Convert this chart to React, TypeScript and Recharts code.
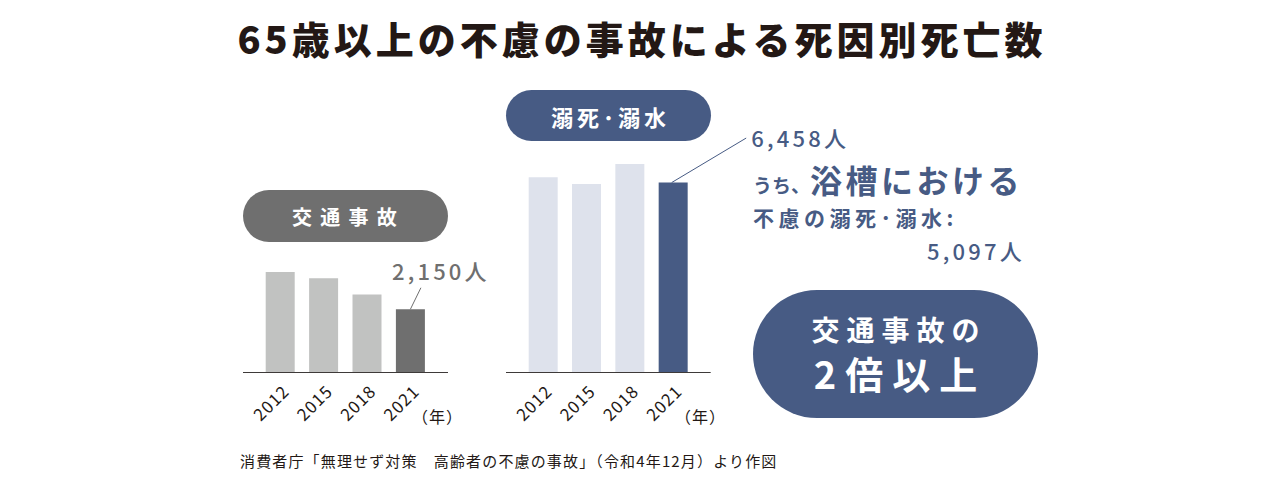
import React from 'react';
import { BarChart, Bar, XAxis, YAxis, Cell, LabelList } from 'recharts';

const years = ['2012', '2015', '2018', '2021'];
const trafficDeaths = [3418, 3204, 2650, 2150];
const drowningDeaths = [6640, 6410, 7093, 6458];
const valueDomain = [0, 8000];

const trafficData = years.map((year, i) => ({ year, value: trafficDeaths[i] }));
const drowningData = years.map((year, i) => ({ year, value: drowningDeaths[i] }));

const FONT = '"Noto Sans CJK JP", "Noto Sans", sans-serif';
const DARK = '#231815';
const NAVY = '#475b84';
const NAVY_LIGHT = '#dee2ec';
const GRAY = '#6f6f6f';
const GRAY_LIGHT = '#c1c2c1';
const AXIS = '#3e3a39';

const RotTick = (props: any) => {
  const { x, y, payload } = props;
  const tx = x + 10;
  const ty = y + 20;
  return (
    <text
      x={tx}
      y={ty}
      transform={`rotate(-45 ${tx} ${ty})`}
      textAnchor="end"
      fontFamily={FONT}
      fontSize={17}
      fill={DARK}
      style={{ letterSpacing: 1 }}
    >
      {payload.value}
    </text>
  );
};

const makeLeader = (
  color: string,
  text: string,
  lineDx0: number,
  lineDx: number,
  lineDy: number,
  textDx: number,
  textDy: number
) => (props: any) => {
  const { x, y, width, index } = props;
  if (index !== years.length - 1) return null;
  const cx = Number(x) + Number(width) / 2;
  const top = Number(y);
  return (
    <g>
      <line x1={cx + lineDx0} y1={top} x2={cx + lineDx} y2={top - lineDy} stroke={color} strokeWidth={1} />
      <text
        x={cx + textDx}
        y={top - textDy}
        fontFamily={FONT}
        fontSize={22}
        fontWeight={500}
        fill={color}
        style={{ letterSpacing: 3.2 }}
      >
        {text}
      </text>
    </g>
  );
};

const trafficLabel = makeLeader(GRAY, '2,150人', 0, 10.5, 21.5, -18.5, 29.5);
const drowningLabel = makeLeader(NAVY, '6,458人', -1.5, 73, 44.5, 78, 36);

const CHART_W = 1280;
const CHART_H = 486;
const MARGIN_TOP = 137.2;
const XAXIS_H = 40;
const MARGIN_BOTTOM = 73.5;

export default function App() {
  return (
    <div
      style={{
        position: 'absolute',
        left: 0,
        top: 0,
        width: 1280,
        height: 486,
        background: '#ffffff',
        fontFamily: FONT,
        overflow: 'hidden',
      }}
    >
      {/* Title */}
      <div
        style={{
          position: 'absolute',
          left: 0,
          top: 16,
          width: 1280,
          textAlign: 'center',
          fontSize: 38,
          fontWeight: 900,
          lineHeight: '44px',
          color: DARK,
          letterSpacing: 4,
          paddingLeft: 4,
          boxSizing: 'border-box',
        }}
      >
        65歳以上の不慮の事故による死因別死亡数
      </div>

      {/* Left chart: traffic accidents */}
      <div style={{ position: 'absolute', left: 0, top: 0 }}>
        <BarChart
          width={CHART_W}
          height={CHART_H}
          data={trafficData}
          margin={{ top: MARGIN_TOP, right: 1280 - 448, left: 243, bottom: MARGIN_BOTTOM }}
        >
          <YAxis hide domain={valueDomain} />
          <XAxis
            dataKey="year"
            height={XAXIS_H}
            interval={0}
            tickLine={false}
            tickSize={0}
            tickMargin={0}
            axisLine={{ stroke: AXIS, strokeWidth: 1 }}
            padding={{ left: 15.7, right: 15.7 }}
            tick={<RotTick />}
          />
          <Bar dataKey="value" barSize={29} isAnimationActive={false}>
            {trafficData.map((d, i) => (
              <Cell key={d.year} fill={i === trafficData.length - 1 ? GRAY : GRAY_LIGHT} />
            ))}
            <LabelList dataKey="value" content={trafficLabel} />
          </Bar>
        </BarChart>
      </div>

      {/* Right chart: drowning */}
      <div style={{ position: 'absolute', left: 0, top: 0 }}>
        <BarChart
          width={CHART_W}
          height={CHART_H}
          data={drowningData}
          margin={{ top: MARGIN_TOP, right: 1280 - 710.7, left: 506, bottom: MARGIN_BOTTOM }}
        >
          <YAxis hide domain={valueDomain} />
          <XAxis
            dataKey="year"
            height={XAXIS_H}
            interval={0}
            tickLine={false}
            tickSize={0}
            tickMargin={0}
            axisLine={{ stroke: AXIS, strokeWidth: 1 }}
            padding={{ left: 15.7, right: 15.7 }}
            tick={<RotTick />}
          />
          <Bar dataKey="value" barSize={29} isAnimationActive={false}>
            {drowningData.map((d, i) => (
              <Cell key={d.year} fill={i === drowningData.length - 1 ? NAVY : NAVY_LIGHT} />
            ))}
            <LabelList dataKey="value" content={drowningLabel} />
          </Bar>
        </BarChart>
      </div>

      {/* Year unit labels */}
      <div style={{ position: 'absolute', left: 412, top: 406, fontSize: 16, color: DARK, letterSpacing: 1, lineHeight: '20px' }}>
        （年）
      </div>
      <div style={{ position: 'absolute', left: 675, top: 406, fontSize: 16, color: DARK, letterSpacing: 1, lineHeight: '20px' }}>
        （年）
      </div>

      {/* Left pill */}
      <div
        style={{
          position: 'absolute',
          left: 243,
          top: 190,
          width: 205,
          height: 52,
          borderRadius: 26,
          background: GRAY,
          color: '#fff',
          display: 'flex',
          alignItems: 'center',
          justifyContent: 'center',
          fontSize: 20,
          fontWeight: 700,
          letterSpacing: 8.3,
          paddingLeft: 6,
          boxSizing: 'border-box',
        }}
      >
        交通事故
      </div>

      {/* Right pill */}
      <div
        style={{
          position: 'absolute',
          left: 506,
          top: 90,
          width: 205,
          height: 51,
          borderRadius: 25.5,
          background: NAVY,
          color: '#fff',
          display: 'flex',
          alignItems: 'center',
          justifyContent: 'center',
          fontSize: 22,
          fontWeight: 700,
          letterSpacing: 4,
          paddingLeft: 4,
          boxSizing: 'border-box',
          whiteSpace: 'nowrap',
        }}
      >
        溺死･溺水
      </div>

      {/* Right annotation */}
      <div style={{ position: 'absolute', left: 753, top: 158, color: NAVY, fontWeight: 700, whiteSpace: 'nowrap', lineHeight: '42px' }}>
        <span style={{ fontSize: 19, letterSpacing: 0 }}>うち、</span>
        <span style={{ fontSize: 32, letterSpacing: 3.5 }}>浴槽における</span>
      </div>
      <div
        style={{
          position: 'absolute',
          left: 753,
          top: 203,
          color: NAVY,
          fontWeight: 700,
          fontSize: 21,
          letterSpacing: 4.5,
          whiteSpace: 'nowrap',
          lineHeight: '28px',
        }}
      >
        不慮の溺死･溺水:
      </div>
      <div
        style={{
          position: 'absolute',
          right: 1280 - 1025,
          top: 236,
          color: NAVY,
          fontWeight: 500,
          fontSize: 22,
          letterSpacing: 3.2,
          whiteSpace: 'nowrap',
          lineHeight: '28px',
        }}
      >
        5,097人
      </div>

      {/* Big pill */}
      <div
        style={{
          position: 'absolute',
          left: 753,
          top: 290,
          width: 285,
          height: 128,
          borderRadius: 64,
          background: NAVY,
          color: '#fff',
          fontWeight: 700,
          textAlign: 'center',
        }}
      >
        <div style={{ position: 'absolute', left: 0, width: 285, top: 22, fontSize: 28, letterSpacing: 7, lineHeight: '34px', paddingLeft: 7, boxSizing: 'border-box' }}>
          交通事故の
        </div>
        <div style={{ position: 'absolute', left: 0, width: 285, top: 61, fontSize: 38, letterSpacing: 9, lineHeight: '44px', paddingLeft: 9, boxSizing: 'border-box' }}>
          2倍以上
        </div>
      </div>

      {/* Source */}
      <div
        style={{
          position: 'absolute',
          left: 240,
          top: 451,
          fontSize: 15,
          color: DARK,
          letterSpacing: 1.15,
          whiteSpace: 'nowrap',
          lineHeight: '20px',
        }}
      >
        消費者庁「無理せず対策　高齢者の不慮の事故」（令和4年12月）より作図
      </div>
    </div>
  );
}
